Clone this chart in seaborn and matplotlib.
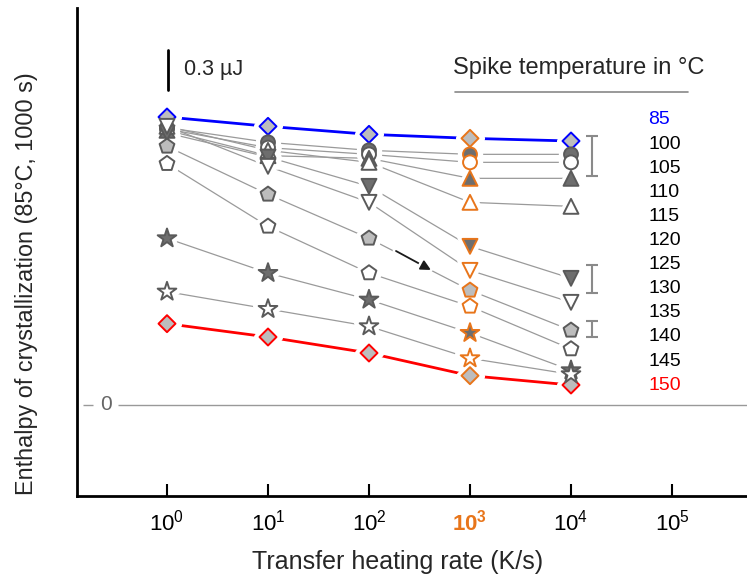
import numpy as np
import pandas as pd
import matplotlib
matplotlib.use("Agg")
import matplotlib.pyplot as plt
import matplotlib.patheffects as pe
import seaborn as sns

# ---------------- data ----------------
rates = [1, 10, 100, 1000, 10000]
temps = [85, 100, 105, 110, 115, 120, 125, 130, 135, 140, 145, 150]
h85 = [2.16, 2.09, 2.03, 2.00, 1.98]
h100 = [2.08, 1.97, 1.91, 1.88, 1.88]
h105 = [2.07, 1.93, 1.88, 1.82, 1.82]
h110 = [2.06, 1.87, 1.85, 1.70, 1.70]
h115 = [2.09, 1.91, 1.82, 1.52, 1.49]
h120 = [2.04, 1.86, 1.64, 1.19, 0.95]
h125 = [2.09, 1.79, 1.52, 1.01, 0.77]
h130 = [1.94, 1.58, 1.25, 0.86, 0.56]
h135 = [1.81, 1.34, 0.99, 0.74, 0.42]
h140 = [1.25, 0.99, 0.79, 0.54, 0.26]
h145 = [0.85, 0.72, 0.59, 0.35, 0.23]
h150 = [0.61, 0.51, 0.39, 0.22, 0.15]
tick_rates = [1, 10, 100, 1000, 10000, 100000]
tick_labels = ["$10^{0}$", "$10^{1}$", "$10^{2}$", "$\\mathbf{10^{3}}$", "$10^{4}$", "$10^{5}$"]
highlight_rate = 1000
err_rate = 16000
err_lo = [1.72, 0.84, 0.51]
err_hi = [2.02, 1.05, 0.63]
scale_bar = 0.3

series = [h85, h100, h105, h110, h115, h120, h125, h130, h135, h140, h145, h150]

# ---------------- style ----------------
sns.set_theme(style="white")
plt.rcParams["font.family"] = ["Liberation Sans", "DejaVu Sans"]
plt.rcParams["mathtext.fontset"] = "custom"
plt.rcParams["mathtext.rm"] = "Liberation Sans"
plt.rcParams["mathtext.it"] = "Liberation Sans:italic"
plt.rcParams["mathtext.bf"] = "Liberation Sans:bold"

DARK = "#6e6e6e"
LIGHT = "#bdbdbd"
EDGE = "#5a5a5a"
ORANGE = "#e8751a"
BLUE = "#0000ff"
RED = "#ff0000"

mstyle = {
    85: ("D", LIGHT, BLUE, 75),
    100: ("o", DARK, EDGE, 100),
    105: ("o", "white", EDGE, 100),
    110: ("^", DARK, EDGE, 115),
    115: ("^", "white", EDGE, 115),
    120: ("v", DARK, EDGE, 115),
    125: ("v", "white", EDGE, 115),
    130: ("p", LIGHT, EDGE, 125),
    135: ("p", "white", EDGE, 125),
    140: ("*", DARK, EDGE, 200),
    145: ("*", "white", EDGE, 200),
    150: ("D", LIGHT, RED, 75),
}
line_colors = {t: "#9a9a9a" for t in temps}
line_colors[85] = BLUE
line_colors[150] = RED
line_widths = {t: 0.9 for t in temps}
line_widths[85] = 2.0
line_widths[150] = 2.0

rows = []
for t, h in zip(temps, series):
    for r, v in zip(rates, h):
        rows.append({"rate": r, "h": v, "temp": t})
df = pd.DataFrame(rows)

fig = plt.figure(figsize=(7.47, 5.78), dpi=100)
ax = fig.add_axes([77 / 747, 82 / 578, 670 / 747, 488 / 578])

def px2x(px):
    return 10 ** ((px - 167) / 101.0)

def px2y(py):
    return (405 - py) / 133.33

sns.lineplot(data=df, x="rate", y="h", hue="temp", palette=line_colors,
             size="temp", sizes=line_widths, estimator=None, sort=False,
             legend=False, ax=ax, zorder=2)

# white halos then markers
draw_order = [150] + temps[:-1]
for t in draw_order:
    m, fc, ec, s = mstyle[t]
    h = series[temps.index(t)]
    sns.scatterplot(x=rates, y=h, marker=m, s=s * 1.5, facecolor="white",
                    edgecolor="white", linewidth=6, ax=ax, zorder=3, legend=False)
for t in draw_order:
    m, fc, ec, s = mstyle[t]
    h = series[temps.index(t)]
    edges = [ORANGE if r == highlight_rate else ec for r in rates]
    sns.scatterplot(x=rates, y=h, marker=m, s=s, facecolor=fc,
                    edgecolor=edges, linewidth=1.4, ax=ax, zorder=4, legend=False)

ax.set_xscale("log")
ax.set_xlim(px2x(77), px2x(747))
ax.set_ylim(px2y(496), px2y(8))

# zero line with label
ax.hlines(0, px2x(83), px2x(93), color="#999999", lw=1.0, zorder=1)
ax.hlines(0, px2x(118), px2x(747), color="#999999", lw=1.0, zorder=1)
ax.text(px2x(106), 0, "0", color="#666666", fontsize=15, ha="center", va="center")

# error bars
ax.errorbar([err_rate] * 3, [(a + b) / 2 for a, b in zip(err_lo, err_hi)],
            yerr=[(b - a) / 2 for a, b in zip(err_lo, err_hi)], fmt="none",
            ecolor="#8a8a8a", elinewidth=1.5, capsize=4, capthick=1.5, zorder=2)

# scale bar
ax.plot([px2x(168), px2x(168)], [px2y(90), px2y(90) + scale_bar], color="black", lw=2)
ax.text(px2x(184), px2y(70), "0.3 µJ", fontsize=15.5, ha="left", va="center")

# legend heading
ax.text(px2x(453), px2y(68), "Spike temperature in °C", fontsize=17,
        ha="left", va="center")
ax.plot([px2x(455), px2x(688)], [px2y(92), px2y(92)], color="#888888", lw=1.2)
for i, t in enumerate(temps):
    c = "black"
    if t == 85:
        c = BLUE
    elif t == 150:
        c = RED
    ax.text(px2x(648), px2y(120 + i * 24.1), str(t), fontsize=14, color=c,
            ha="left", va="center")

# arrow
ann = ax.annotate("", xy=(px2x(431), px2y(270)), xytext=(px2x(396), px2y(251)),
                  arrowprops=dict(arrowstyle="-|>", color="#1a1a1a", lw=1.3,
                                  mutation_scale=15, shrinkA=0, shrinkB=0),
                  zorder=5)
ann.arrow_patch.set_path_effects([pe.Stroke(linewidth=5, foreground="white"), pe.Normal()])

# axes styling
ax.set_xticks(tick_rates)
ax.set_xticklabels(tick_labels)
ax.xaxis.set_minor_locator(matplotlib.ticker.NullLocator())
ax.set_yticks([])
ax.tick_params(axis="x", direction="in", length=9, width=1.5, pad=10,
               labelsize=16, bottom=True, colors="black")
for lbl in ax.get_xticklabels():
    if "mathbf" in lbl.get_text():
        lbl.set_color(ORANGE)
for sp in ["top", "right"]:
    ax.spines[sp].set_visible(False)
for sp in ["left", "bottom"]:
    ax.spines[sp].set_color("black")
    ax.spines[sp].set_linewidth(2)
ax.set_xlabel("")
ax.set_ylabel("")

fig.text(398 / 747, 1 - 562 / 578, "Transfer heating rate (K/s)", fontsize=18,
         ha="center", va="center")
fig.text(27 / 747, 1 - 284 / 578, "Enthalpy of crystallization (85°C, 1000 s)",
         fontsize=16.8, rotation=90, ha="center", va="center")

fig.savefig("out.png", dpi=100)
